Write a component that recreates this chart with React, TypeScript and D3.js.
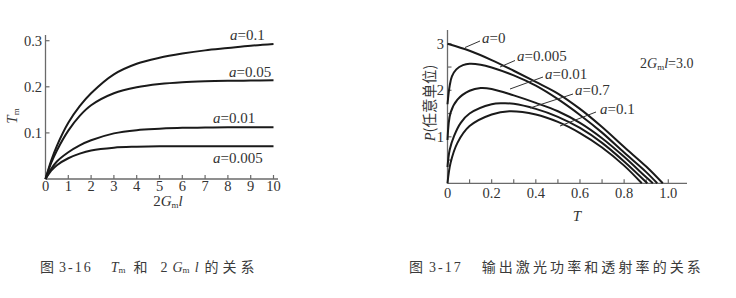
import React from "react";
import * as d3 from "d3";

// ---------- Fig. 3-16: T_m versus 2G_m l ----------
const gainLength = [0, 0.25, 0.5, 1, 1.5, 2, 3, 4, 5, 6, 7, 8, 9, 10];
const tmA01 = [0, 0.04, 0.072, 0.122, 0.158, 0.186, 0.227, 0.25, 0.263, 0.272, 0.279, 0.284, 0.289, 0.293];
const tmA005 = [0, 0.035, 0.062, 0.105, 0.137, 0.16, 0.186, 0.199, 0.206, 0.21, 0.212, 0.213, 0.2135, 0.214];
const tmA001 = [0, 0.022, 0.038, 0.058, 0.073, 0.084, 0.099, 0.106, 0.109, 0.111, 0.1115, 0.112, 0.1122, 0.1125];
const tmA0005 = [0, 0.018, 0.03, 0.045, 0.055, 0.062, 0.068, 0.07, 0.071, 0.071, 0.071, 0.071, 0.071, 0.071];
const leftSeries = [
  { label: "0.1", values: tmA01 },
  { label: "0.05", values: tmA005 },
  { label: "0.01", values: tmA001 },
  { label: "0.005", values: tmA0005 },
];
const leftXTicks = [0, 1, 2, 3, 4, 5, 6, 7, 8, 9, 10];
const leftYTicks = [0.1, 0.2, 0.3];

// ---------- Fig. 3-17: output power versus transmission ----------
const powA0T = [0, 0.1, 0.2, 0.3, 0.4, 0.5, 0.6, 0.7, 0.8, 0.9, 0.975];
const powA0P = [3.0, 2.85, 2.65, 2.42, 2.18, 1.93, 1.6, 1.21, 0.78, 0.36, 0];
const powA0005T = [0, 0.01, 0.02, 0.04, 0.07, 0.1, 0.15, 0.2, 0.3, 0.4, 0.5, 0.6, 0.7, 0.8, 0.9, 0.95];
const powA0005P = [1.7, 2.1, 2.3, 2.45, 2.54, 2.57, 2.55, 2.49, 2.32, 2.1, 1.81, 1.47, 1.09, 0.66, 0.24, 0];
const powA001T = [0, 0.014, 0.045, 0.1, 0.15, 0.2, 0.3, 0.4, 0.5, 0.6, 0.7, 0.8, 0.9, 0.93];
const powA001P = [0.93, 1.52, 1.8, 1.99, 2.05, 2.03, 1.89, 1.73, 1.55, 1.3, 0.97, 0.57, 0.13, 0];
const powA07T = [0, 0.01, 0.03, 0.06, 0.1, 0.2, 0.25, 0.3, 0.4, 0.5, 0.6, 0.7, 0.8, 0.905];
const powA07P = [0.35, 0.72, 1.02, 1.3, 1.5, 1.7, 1.72, 1.71, 1.6, 1.43, 1.19, 0.87, 0.47, 0];
const powA01T = [0, 0.014, 0.045, 0.1, 0.2, 0.28, 0.4, 0.5, 0.6, 0.7, 0.8, 0.88];
const powA01P = [0, 0.44, 0.87, 1.23, 1.48, 1.55, 1.48, 1.32, 1.08, 0.77, 0.38, 0];
const rightSeries = [
  { label: "0", t: powA0T, p: powA0P },
  { label: "0.005", t: powA0005T, p: powA0005P },
  { label: "0.01", t: powA001T, p: powA001P },
  { label: "0.7", t: powA07T, p: powA07P },
  { label: "0.1", t: powA01T, p: powA01P },
];
const rightXTicks = [0.1, 0.2, 0.3, 0.4, 0.5, 0.6, 0.7, 0.8, 0.9, 1.0];
const rightXLabels = [0, 0.2, 0.4, 0.6, 0.8, 1.0];
const rightYTicks = [0.5, 1, 1.5, 2, 2.5, 3];
const rightYLabels = [1, 2, 3];

const SERIF = "'Liberation Serif', 'DejaVu Serif', serif";
const CJK = "'Noto Sans CJK SC', 'Noto Sans', sans-serif";
const AXIS = "#6a6a6a";
const INK = "#1a1a1a";
const TEXT = "#333";
const CAP = "#3a3a3a";

type Pt = [number, number];

export default function App() {
  // left panel scales
  const lx = d3.scaleLinear().domain([0, 10]).range([45.5, 273.5]);
  const ly = d3.scaleLinear().domain([0, 0.3]).range([179, 40.7]);
  const lLine = d3
    .line<Pt>()
    .x((d) => lx(d[0]))
    .y((d) => ly(d[1]))
    .curve(d3.curveCatmullRom.alpha(0.5));

  // right panel scales
  const rx = d3.scaleLinear().domain([0, 1]).range([447.5, 668.3]);
  const ry = d3.scaleLinear().domain([0, 3]).range([183.3, 43.8]);
  const rLine = d3
    .line<Pt>()
    .x((d) => rx(d[0]))
    .y((d) => ry(d[1]))
    .curve(d3.curveCatmullRom.alpha(0.5));

  // curve label anchors (left panel)
  const leftLabelPos: { x: number; y: number }[] = [
    { x: 230, y: 40 },
    { x: 229, y: 76.5 },
    { x: 213, y: 123 },
    { x: 213, y: 163 },
  ];

  // curve labels and leader lines (right panel)
  const rightLabelPos = [
    { x: 482, y: 43, lead: [465, 47.5, 480, 41] },
    { x: 517, y: 61, lead: [500, 67, 515, 60.5] },
    { x: 545, y: 79, lead: [510, 89, 543, 77] },
    { x: 575, y: 95, lead: [530, 108, 573, 94] },
    { x: 600, y: 114, lead: [560, 126, 596, 112] },
  ];

  const fmtR = (v: number) => (v === 0 ? "0" : d3.format(".1f")(v));

  return (
    <svg
      width={736}
      height={298}
      style={{ position: "absolute", left: 0, top: 0, background: "#fff" }}
    >
      {/* ===== left panel ===== */}
      <g>
        <line x1={lx(0)} y1={ly(0)} x2={278} y2={ly(0)} stroke={AXIS} strokeWidth={1.3} />
        <line x1={lx(0)} y1={ly(0)} x2={lx(0)} y2={35} stroke={AXIS} strokeWidth={1.3} />
        {leftXTicks.slice(1).map((t) => (
          <line key={"lxt" + t} x1={lx(t)} x2={lx(t)} y1={ly(0)} y2={ly(0) - 4} stroke={AXIS} strokeWidth={1.2} />
        ))}
        {leftYTicks.map((t) => (
          <line key={"lyt" + t} x1={lx(0)} x2={lx(0) + 4} y1={ly(t)} y2={ly(t)} stroke={AXIS} strokeWidth={1.2} />
        ))}
        {leftXTicks.map((t) => (
          <text key={"lxl" + t} x={lx(t)} y={190.5} textAnchor="middle" fontFamily={SERIF} fontSize={14.5} fill={TEXT}>
            {t}
          </text>
        ))}
        {leftYTicks.map((t) => (
          <text key={"lyl" + t} x={42} y={ly(t)} dy="0.35em" textAnchor="end" fontFamily={SERIF} fontSize={14.5} fill={TEXT}>
            {d3.format(".1f")(t)}
          </text>
        ))}
        {leftSeries.map((s) => (
          <path
            key={"lc" + s.label}
            d={lLine(gainLength.map((g, i) => [g, s.values[i]] as Pt)) || ""}
            fill="none"
            stroke={INK}
            strokeWidth={2}
          />
        ))}
        {leftSeries.map((s, i) => (
          <text key={"lcl" + s.label} x={leftLabelPos[i].x} y={leftLabelPos[i].y} fontFamily={SERIF} fontSize={15} fill={TEXT}>
            <tspan fontStyle="italic">a</tspan>={s.label}
          </text>
        ))}
        {/* axis titles */}
        <text transform="translate(17,116) rotate(-90)" textAnchor="middle" fontFamily={SERIF} fontSize={15} fill={TEXT}>
          <tspan fontStyle="italic">T</tspan>
          <tspan fontSize={9} dy={2}>m</tspan>
        </text>
        <text x={168} y={206} textAnchor="middle" fontFamily={SERIF} fontSize={15} fill={TEXT}>
          2<tspan fontStyle="italic">G</tspan>
          <tspan fontSize={9} dy={2}>m</tspan>
          <tspan fontStyle="italic" dy={-2}>l</tspan>
        </text>
        {/* caption */}
        <text x={40} y={272} fontFamily={CJK} fontSize={14} fill={CAP}>
          图<tspan fontFamily={SERIF} dx={5} letterSpacing={2}>3-16</tspan>
          <tspan fontFamily={SERIF} fontStyle="italic" dx={18}>T</tspan>
          <tspan fontFamily={SERIF} fontSize={9} dy={1}>m</tspan>
          <tspan dx={8} dy={-1}>和</tspan>
          <tspan fontFamily={SERIF} dx={13}>2</tspan>
          <tspan fontFamily={SERIF} fontStyle="italic" dx={5}>G</tspan>
          <tspan fontFamily={SERIF} fontSize={9} dy={1}>m</tspan>
          <tspan fontFamily={SERIF} fontStyle="italic" dx={5} dy={-1}>l</tspan>
          <tspan dx={6} letterSpacing={4}>的关系</tspan>
        </text>
      </g>

      {/* ===== right panel ===== */}
      <g>
        <line x1={rx(0)} y1={ry(0)} x2={687} y2={ry(0)} stroke={AXIS} strokeWidth={1.3} />
        <line x1={rx(0)} y1={ry(0)} x2={rx(0)} y2={30} stroke={AXIS} strokeWidth={1.3} />
        {rightXTicks.map((t) => (
          <line key={"rxt" + t} x1={rx(t)} x2={rx(t)} y1={ry(0)} y2={ry(0) - 4} stroke={AXIS} strokeWidth={1.2} />
        ))}
        {rightYTicks.map((t) => (
          <line key={"ryt" + t} x1={rx(0)} x2={rx(0) + 4} y1={ry(t)} y2={ry(t)} stroke={AXIS} strokeWidth={1.2} />
        ))}
        {rightXLabels.map((t) => (
          <text key={"rxl" + t} x={rx(t)} y={198} textAnchor="middle" fontFamily={SERIF} fontSize={14.5} fill={TEXT}>
            {fmtR(t)}
          </text>
        ))}
        {rightYLabels.map((t) => (
          <text key={"ryl" + t} x={444} y={ry(t)} dy="0.35em" textAnchor="end" fontFamily={SERIF} fontSize={14.5} fill={TEXT}>
            {t}
          </text>
        ))}
        {rightSeries.map((s) => (
          <path
            key={"rc" + s.label}
            d={rLine(s.t.map((t, i) => [t, s.p[i]] as Pt)) || ""}
            fill="none"
            stroke={INK}
            strokeWidth={2}
          />
        ))}
        {rightSeries.map((s, i) => {
          const L = rightLabelPos[i];
          return (
            <g key={"rcl" + s.label}>
              <line x1={L.lead[0]} y1={L.lead[1]} x2={L.lead[2]} y2={L.lead[3]} stroke={TEXT} strokeWidth={1} />
              <text x={L.x} y={L.y} fontFamily={SERIF} fontSize={15} fill={TEXT}>
                <tspan fontStyle="italic">a</tspan>={s.label}
              </text>
            </g>
          );
        })}
        <text x={640} y={68} fontFamily={SERIF} fontSize={14} fill={TEXT}>
          2<tspan fontStyle="italic">G</tspan>
          <tspan fontSize={9} dy={2}>m</tspan>
          <tspan fontStyle="italic" dy={-2}>l</tspan>=3.0
        </text>
        <text transform="translate(435,103) rotate(-90)" textAnchor="middle" fill={TEXT} fontSize={14.5}>
          <tspan fontFamily={SERIF} fontStyle="italic">P</tspan>
          <tspan fontFamily={CJK}>(任意单位)</tspan>
        </text>
        <text x={577} y={221} textAnchor="middle" fontFamily={SERIF} fontStyle="italic" fontSize={15} fill={TEXT}>
          T
        </text>
        {/* caption */}
        <text x={409} y={272} fontFamily={CJK} fontSize={14} fill={CAP}>
          图<tspan fontFamily={SERIF} dx={6} letterSpacing={2}>3-17</tspan>
          <tspan dx={19} letterSpacing={3.1}>输出激光功率和透射率的关系</tspan>
        </text>
      </g>
    </svg>
  );
}
